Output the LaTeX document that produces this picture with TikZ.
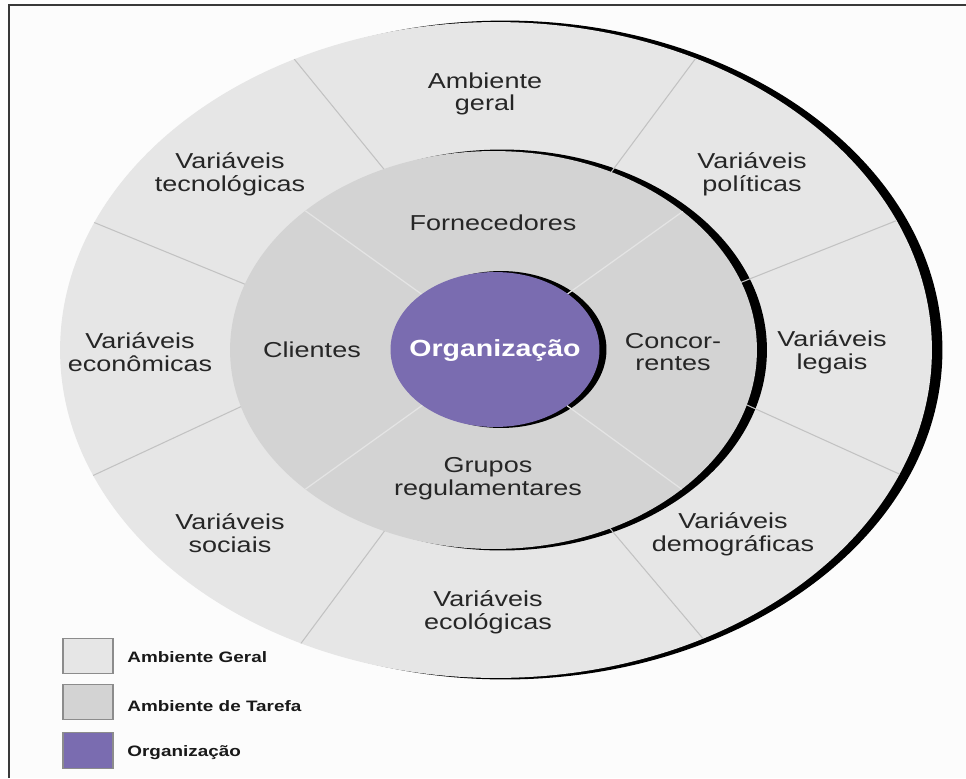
\documentclass[tikz,border=0pt]{standalone}
\usepackage{fontspec}
\setmainfont{Liberation Sans}
\definecolor{txtgray}{HTML}{262626}
\definecolor{geralfill}{HTML}{E6E6E6}
\definecolor{tarefafill}{HTML}{D3D3D3}
\definecolor{orgfill}{HTML}{7A6CB0}
\definecolor{outerline}{HTML}{C2C2C2}
\definecolor{innerline}{HTML}{E4E4E4}
\definecolor{framegray}{HTML}{3A3A3A}
\definecolor{boxedge}{HTML}{8C8C8C}
\begin{document}
\begin{tikzpicture}[x=0.02cm,y=-0.02cm,
  ringtext/.style={font=\fontsize{12.3}{12.9}\selectfont, text=txtgray, align=center, xscale=1.25, inner sep=0pt},
  orgtext/.style={font=\fontsize{13.3}{14}\selectfont\bfseries, text=white, xscale=1.22, inner sep=0pt},
  legtext/.style={font=\fontsize{8.6}{10}\selectfont\bfseries, text=black!90, xscale=1.25, inner sep=0pt, anchor=base west},
  legbox/.style={draw=boxedge, line width=0.8pt, minimum width=1cm, minimum height=0.71cm, inner sep=0pt},
  outerdiv/.style={draw=outerline, line width=0.6pt, shorten <=-8pt, shorten >=-8pt},
  innerdiv/.style={draw=innerline, line width=0.7pt, shorten <=-8pt, shorten >=-8pt}]
\useasboundingbox (0,0) rectangle (966,778);
\fill[white] (0,0) rectangle (966,778);
\fill[black!1] (9,5) rectangle (966,778);

% frame on the left and top
\draw[framegray, line width=1.5pt] (9,778) -- (9,5) -- (966,5);

% general environment ring with its shadow
\fill[black] (505,350) ellipse [x radius=8.75cm, y radius=6.59cm];
\fill[geralfill] (496,350) ellipse [x radius=8.72cm, y radius=6.56cm];

% shadow of the task environment
\fill[black] (502,350) ellipse [x radius=5.30cm, y radius=4.01cm];

% dividers of the general environment
\begin{scope}
  \clip (496,350) ellipse [x radius=8.72cm, y radius=6.56cm];
  \draw[outerdiv] (383,168) -- (295,60);
  \draw[outerdiv] (615,167) -- (693,62);
  \draw[outerdiv] (752,278) -- (893,222);
  \draw[outerdiv] (758,410) -- (897,473);
  \draw[outerdiv] (613,532) -- (700,635);
  \draw[outerdiv] (383,533) -- (302,642);
  \draw[outerdiv] (238,408) -- (92,476);
  \draw[outerdiv] (242,283) -- (93,222);
\end{scope}

% task environment
\fill[tarefafill] (493.5,350) ellipse [x radius=5.27cm, y radius=3.98cm];

% shadow of the organization
\fill[black] (501,349.5) ellipse [x radius=2.11cm, y radius=1.57cm];

% dividers of the task environment
\begin{scope}
  \clip (493.5,350) ellipse [x radius=5.27cm, y radius=3.98cm];
  \draw[innerdiv] (413,288) -- (307,212);
  \draw[innerdiv] (573,290) -- (682,212);
  \draw[innerdiv] (573,410) -- (680,488);
  \draw[innerdiv] (413,412) -- (307,488);
\end{scope}

% organization
\fill[orgfill] (495,349.5) ellipse [x radius=2.09cm, y radius=1.55cm];

% labels of the general environment
\node[ringtext] (geral) at (485,94) {Ambiente\\geral};
\node[ringtext] (tecno) at (230,174) {Variáveis\\tecnológicas};
\node[ringtext] (polit) at (752,174) {Variáveis\\políticas};
\node[ringtext] (legais) at (832,352) {Variáveis\\legais};
\node[ringtext] (econ) at (140,352) {Variáveis\\econômicas};
\node[ringtext] (soc) at (230,533) {Variáveis\\sociais};
\node[ringtext] (demo) at (733,534) {Variáveis\\demográficas};
\node[ringtext] (eco) at (488,612) {Variáveis\\ecológicas};

% labels of the task environment
\node[ringtext] (forn) at (493,223) {Fornecedores};
\node[ringtext] (cli) at (312,350) {Clientes};
\node[ringtext] (conc) at (673,352) {Concor-\\rentes};
\node[ringtext] (grupos) at (488,479) {Grupos\\regulamentares};

% organization label
\node[orgtext, anchor=base] (org) at (495,356) {Organização};

% legend
\node[legbox, fill=geralfill] (kgeral) at (88,656) {};
\node[legbox, fill=tarefafill] (ktarefa) at (88,702) {};
\node[legbox, fill=orgfill] (korg) at (88,750.5) {};
\node[legtext] (lgeral) at (127,662) {Ambiente Geral};
\node[legtext] (ltarefa) at (127,711) {Ambiente de Tarefa};
\node[legtext] (lorg) at (127,756) {Organização};
\end{tikzpicture}
\end{document}
